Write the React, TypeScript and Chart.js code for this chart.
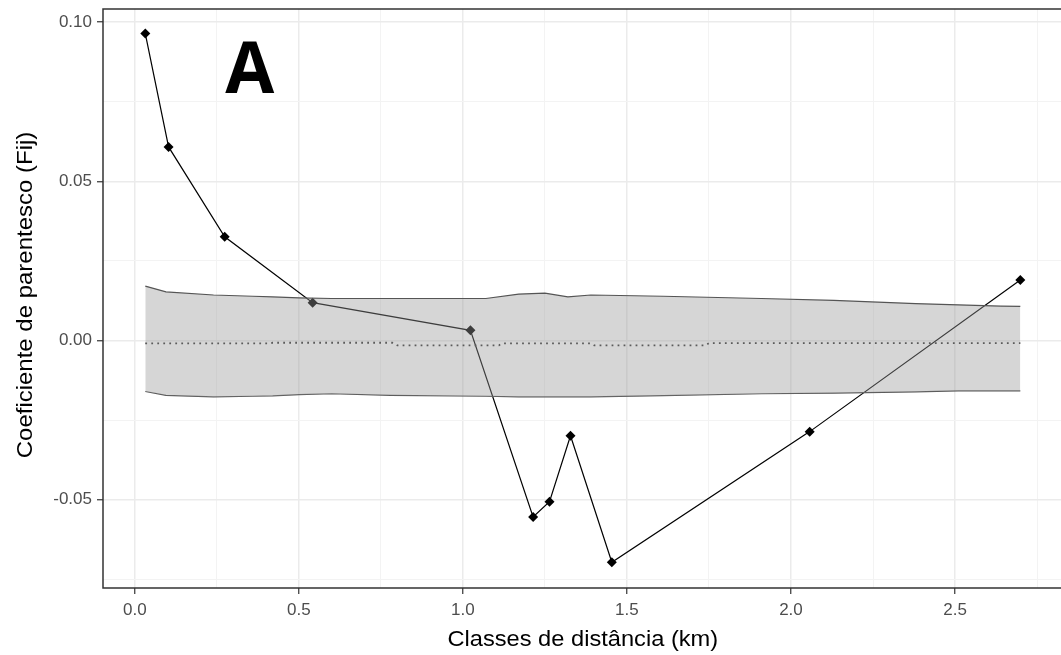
import React, { useEffect, useRef } from 'react';
import { Chart, registerables } from 'chart.js';

Chart.register(...registerables);

// ---- data ----
const distKm = [0.032, 0.103, 0.274, 0.542, 1.023, 1.214, 1.264, 1.328, 1.454, 2.057, 2.699];
const fij = [0.0964, 0.0608, 0.0326, 0.0119, 0.0032, -0.0554, -0.0506, -0.0299, -0.0696, -0.0286, 0.019];

const envX = [0.032, 0.095, 0.24, 0.36, 0.42, 0.5, 0.6, 0.78, 1.07, 1.17, 1.25, 1.32, 1.39, 1.61, 1.91, 2.13, 2.38, 2.51, 2.64, 2.699];
const envUpper = [0.0171, 0.0153, 0.0143, 0.0139, 0.0137, 0.0134, 0.0132, 0.0132, 0.0132, 0.0146, 0.0149, 0.0137, 0.0143, 0.0139, 0.0132, 0.0126, 0.0116, 0.0112, 0.0108, 0.0107];
const envLower = [-0.016, -0.0172, -0.0177, -0.0175, -0.0174, -0.017, -0.0167, -0.0172, -0.0175, -0.0177, -0.0177, -0.0177, -0.0177, -0.0173, -0.0167, -0.0165, -0.0161, -0.0158, -0.0158, -0.0158];

const meanX = [0.032, 0.41, 0.42, 0.785, 0.8, 1.11, 1.12, 1.39, 1.4, 1.74, 1.75, 2.699];
const meanY = [-0.0009, -0.0009, -0.0007, -0.0007, -0.0015, -0.0015, -0.0009, -0.0009, -0.0015, -0.0015, -0.0008, -0.0008];

const xMajorTicks = [0, 0.5, 1, 1.5, 2, 2.5];
const xMinorTicks = [0.25, 0.75, 1.25, 1.75, 2.25, 2.75];
const yMajorTicks = [-0.05, 0, 0.05, 0.1];
const yMinorTicks = [-0.075, -0.025, 0.025, 0.075];

const xTitle = 'Classes de distância (km)';
const yTitle = 'Coeficiente de parentesco (Fij)';
const panelLabel = 'A';
const panelLabelAt = { x: 0.35, y: 0.0778 };

const FONT = '"Liberation Sans", Arial, Helvetica, sans-serif';

const isIn = (list: number[], v: number) => list.some((t) => Math.abs(t - v) < 1e-9);

const zeroPad = (s: any) => {
  s.paddingTop = 0;
  s.paddingBottom = 0;
  s.paddingLeft = 0;
  s.paddingRight = 0;
};

const decorPlugin = {
  id: 'decor',
  afterDatasetsDraw(chart: any) {
    const { ctx, chartArea: a, scales } = chart;
    ctx.save();
    // panel border (top, left, bottom; right edge is cut off)
    ctx.strokeStyle = '#333333';
    ctx.lineWidth = 1.5;
    ctx.beginPath();
    ctx.moveTo(a.right + 2, a.top);
    ctx.lineTo(a.left, a.top);
    ctx.lineTo(a.left, a.bottom);
    ctx.lineTo(a.right + 2, a.bottom);
    ctx.stroke();

    // panel label
    ctx.fillStyle = '#000000';
    ctx.font = 'bold 71px "Open Sans", "DejaVu Sans", sans-serif';
    ctx.textAlign = 'center';
    ctx.textBaseline = 'alphabetic';
    ctx.fillText(panelLabel, scales.x.getPixelForValue(panelLabelAt.x), scales.y.getPixelForValue(panelLabelAt.y));

    // x title
    ctx.font = `21.5px ${FONT}`;
    ctx.save();
    ctx.translate(582.8, 646);
    ctx.scale(1.1, 1);
    ctx.fillText(xTitle, 0, 0);
    ctx.restore();

    // y title
    ctx.font = `22px ${FONT}`;
    ctx.save();
    ctx.translate(31.7, 295);
    ctx.rotate(-Math.PI / 2);
    ctx.scale(1.09, 1);
    ctx.fillText(yTitle, 0, 0);
    ctx.restore();

    ctx.restore();
  },
};

export default function App() {
  const canvasRef = useRef<HTMLCanvasElement | null>(null);

  useEffect(() => {
    document.body.style.margin = '0';
    const canvas = canvasRef.current;
    if (!canvas) return;

    const xy = (xs: number[], ys: number[]) => xs.map((x, i) => ({ x, y: ys[i] }));

    const chart = new Chart(canvas, {
      type: 'line',
      data: {
        datasets: [
          {
            label: 'upper',
            data: xy(envX, envUpper),
            borderColor: '#555555',
            borderWidth: 1.2,
            pointRadius: 0,
            fill: '+1',
            backgroundColor: 'rgba(153,153,153,0.4)',
            tension: 0,
          },
          {
            label: 'lower',
            data: xy(envX, envLower),
            borderColor: '#555555',
            borderWidth: 1.2,
            pointRadius: 0,
            fill: false,
            tension: 0,
          },
          {
            label: 'mean',
            data: xy(meanX, meanY),
            borderColor: '#333333',
            borderWidth: 1.8,
            borderDash: [1.8, 4.2],
            pointRadius: 0,
            fill: false,
            tension: 0,
          },
          {
            label: 'Fij',
            data: xy(distKm, fij),
            borderColor: '#000000',
            borderWidth: 1.2,
            pointStyle: 'rectRot',
            pointRadius: 5,
            pointBackgroundColor: '#000000',
            pointBorderColor: '#000000',
            pointBorderWidth: 0,
            fill: false,
            tension: 0,
          },
        ],
      },
      options: {
        animation: false,
        responsive: false,
        devicePixelRatio: 1,
        layout: { autoPadding: false, padding: { top: 9, left: 0, right: 0, bottom: 0 } },
        plugins: { legend: { display: false }, tooltip: { enabled: false } },
        scales: {
          x: {
            type: 'linear',
            min: -0.0969,
            max: 2.823,
            afterFit: (s: any) => {
              s.height = 67;
              zeroPad(s);
            },
            afterBuildTicks: (s: any) => {
              s.ticks = [...xMajorTicks, ...xMinorTicks].sort((a, b) => a - b).map((v) => ({ value: v }));
            },
            border: { display: false },
            grid: {
              color: (c: any) => (isIn(xMajorTicks, c.tick?.value) ? '#ebebeb' : '#f3f3f3'),
              lineWidth: (c: any) => (isIn(xMajorTicks, c.tick?.value) ? 1.5 : 1),
              tickColor: (c: any) => (isIn(xMajorTicks, c.tick?.value) ? '#333333' : 'rgba(0,0,0,0)'),
              tickLength: 6,
              tickWidth: 1.2,
            },
            ticks: {
              autoSkip: false,
              maxRotation: 0,
              padding: 6,
              color: '#4d4d4d',
              font: { family: FONT, size: 17 },
              callback: (v: any) => (isIn(xMajorTicks, Number(v)) ? Number(v).toFixed(1) : ''),
            },
          },
          y: {
            type: 'linear',
            min: -0.0777,
            max: 0.1041,
            afterFit: (s: any) => {
              s.width = 103;
              zeroPad(s);
            },
            afterBuildTicks: (s: any) => {
              s.ticks = [...yMajorTicks, ...yMinorTicks].sort((a, b) => a - b).map((v) => ({ value: v }));
            },
            border: { display: false },
            grid: {
              color: (c: any) => (isIn(yMajorTicks, c.tick?.value) ? '#ebebeb' : '#f3f3f3'),
              lineWidth: (c: any) => (isIn(yMajorTicks, c.tick?.value) ? 1.5 : 1),
              tickColor: (c: any) => (isIn(yMajorTicks, c.tick?.value) ? '#333333' : 'rgba(0,0,0,0)'),
              tickLength: 6,
              tickWidth: 1.2,
            },
            ticks: {
              autoSkip: false,
              padding: 5,
              color: '#4d4d4d',
              font: { family: FONT, size: 17 },
              callback: (v: any) => (isIn(yMajorTicks, Number(v)) ? Number(v).toFixed(2) : ''),
            },
          },
        },
      },
      plugins: [decorPlugin],
    } as any);

    return () => {
      chart.destroy();
    };
  }, []);

  return (
    <div style={{ width: 1061, height: 655 }}>
      <canvas ref={canvasRef} width={1061} height={655} style={{ display: 'block' }} />
    </div>
  );
}
